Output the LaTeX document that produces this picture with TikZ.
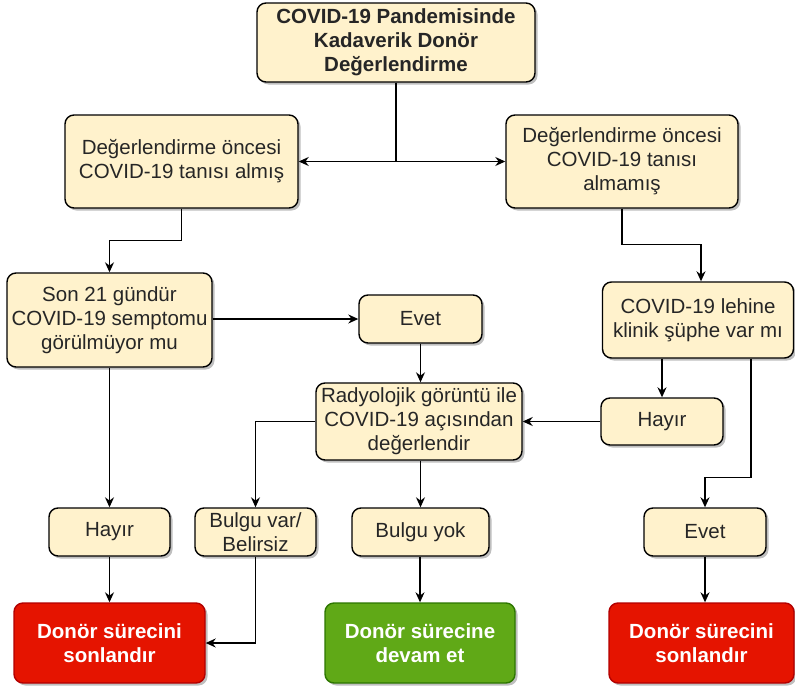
\documentclass[tikz,border=0pt]{standalone}
\usepackage{fontspec}
\setmainfont{Liberation Sans}
\usetikzlibrary{arrows.meta,shadows}
\definecolor{boxfill}{HTML}{FFF2CC}
\definecolor{stopfill}{HTML}{E51400}
\definecolor{stopline}{HTML}{B20000}
\definecolor{gofill}{HTML}{60A917}
\definecolor{goline}{HTML}{2D7600}
\definecolor{ink}{HTML}{262626}
\begin{document}
\begin{tikzpicture}[x=1pt,y=-1pt,
  base/.style={rounded corners=9pt, line width=1.4pt, align=center, inner sep=0pt,
    font=\fontsize{20.5}{24}\selectfont,
    drop shadow={shadow xshift=2.5pt, shadow yshift=-2.5pt, opacity=0.25, fill=black}},
  box/.style={base, draw=black, fill=boxfill, text=ink},
  stopbox/.style={base, draw=stopline, fill=stopfill, text=white, font=\fontsize{20.5}{24}\selectfont\bfseries},
  gobox/.style={base, draw=goline, fill=gofill, text=white, font=\fontsize{20.5}{24}\selectfont\bfseries},
  arr/.style={line width=1.4pt, draw=black, -{Stealth[length=10pt,width=9pt]}},
  wh/.style 2 args={minimum width=#1pt, minimum height=#2pt}]
\useasboundingbox (0,0) rectangle (795,688);

% decision boxes
\node[box, wh={278}{79}, font=\fontsize{20.5}{24}\selectfont\bfseries] (title) at (396,42.5)
  {COVID-19 Pandemisinde\\Kadaverik Donör\\Değerlendirme};
\node[box, wh={233}{93}] (pre) at (181.5,161.5) {Değerlendirme öncesi\\COVID-19 tanısı almış};
\node[box, wh={232}{93}] (npre) at (622,161.5) {Değerlendirme öncesi\\COVID-19 tanısı\\almamış};
\node[box, wh={205}{94}] (son) at (109.5,320) {Son 21 gündür\\COVID-19 semptomu\\görülmüyor mu};
\node[box, wh={191}{76}] (klinik) at (698,320) {COVID-19 lehine\\klinik şüphe var mı};
\node[box, wh={123}{48}] (evetA) at (420.5,319) {Evet};
\node[box, wh={206}{77}] (rad) at (419,421.5) {Radyolojik görüntü ile\\COVID-19 açısından\\değerlendir};
\node[box, wh={122}{47}] (hayirB) at (662,421.5) {Hayır};

% answer boxes
\node[box, wh={121}{48}] (hayirA) at (109.5,532) {Hayır};
\node[box, wh={121}{48}] (var) at (255.5,532) {Bulgu var/\\Belirsiz};
\node[box, wh={137}{48}] (yok) at (420.5,532) {Bulgu yok};
\node[box, wh={122}{48}] (evetB) at (705,532) {Evet};

% outcomes
\node[stopbox, wh={191}{80}] (endA) at (109.5,643) {Donör sürecini\\sonlandır};
\node[gobox, wh={190}{80}] (cont) at (420,643) {Donör sürecine\\devam et};
\node[stopbox, wh={185}{80}] (endB) at (701.5,643) {Donör sürecini\\sonlandır};

% connectors
\draw[arr] (title.south) |- (pre.east);
\draw[arr] (title.south) |- (npre.west);
\draw[arr] (pre.south) -- ++(0,32) -| (son.north);
\draw[arr] (npre.south) -- ++(0,36) -| ([xshift=3pt]klinik.north);
\draw[arr] (son.east |- evetA.west) -- (evetA.west);
\draw[arr] (evetA.south) -- (evetA.south |- rad.north);
\draw[arr] (son.south) -- (hayirA.north);
\draw[arr] (klinik.south -| hayirB.north) -- (hayirB.north);
\draw[arr] ([xshift=53pt]klinik.south) -- ++(0,119) -| (evetB.north);
\draw[arr] (hayirB.west) -- (rad.east);
\draw[arr] (rad.west) -| (var.north);
\draw[arr] (rad.south -| yok.north) -- (yok.north);
\draw[arr] (hayirA.south) -- (endA.north);
\draw[arr] (var.south) |- (endA.east);
\draw[arr] (yok.south -| cont.north) -- (cont.north);
\draw[arr] (evetB.south) -- (evetB.south |- endB.north);
\end{tikzpicture}
\end{document}
